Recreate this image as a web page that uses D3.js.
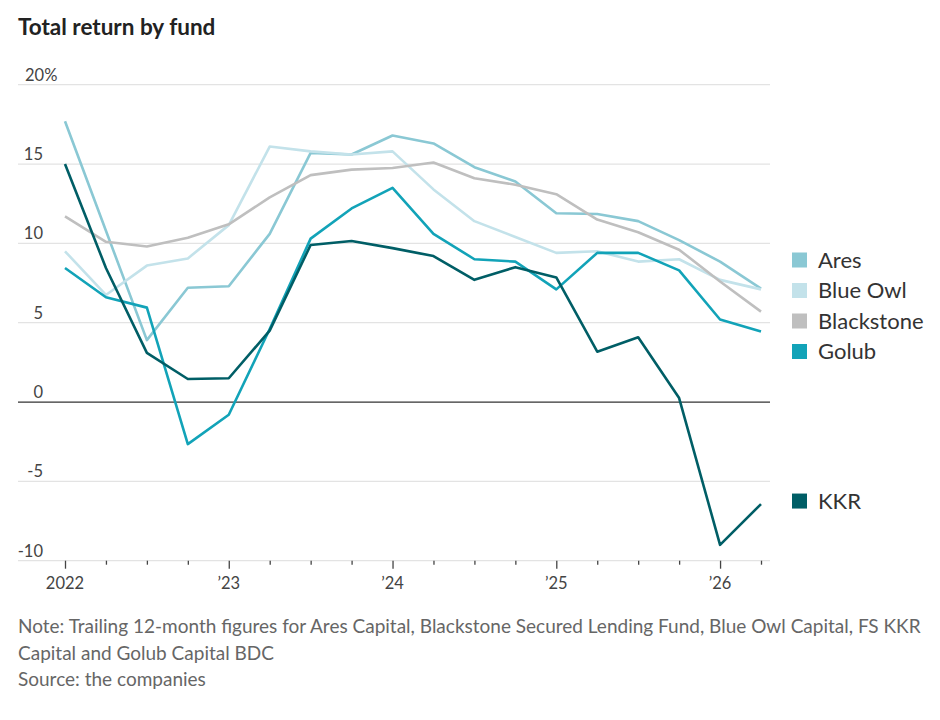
<!DOCTYPE html>
<html>
<head>
<meta charset="utf-8">
<script src="https://cdn.jsdelivr.net/npm/d3@7"></script>
<style>
  html, body { margin: 0; padding: 0; background: #fff; }
  text { font-family: Lato, "Open Sans", sans-serif; }
</style>
</head>
<body>
<svg id="chart" width="940" height="720"></svg>
<script>
// Quarterly dates (year fractions) from 2022 Q1 to 2026 Q2
const quarters = [2022, 2022.25, 2022.5, 2022.75, 2023, 2023.25, 2023.5, 2023.75,
  2024, 2024.25, 2024.5, 2024.75, 2025, 2025.25, 2025.5, 2025.75, 2026, 2026.25];

const seriesNames = ["Ares", "Blue Owl", "Blackstone", "Golub", "KKR"];
const seriesColors = ["#8ac8d4", "#c3e2ea", "#bfbfbf", "#12a3b8", "#005e66"];

const ares       = [17.7, 10.8, 3.9, 7.2, 7.3, 10.6, 15.7, 15.6, 16.8, 16.3, 14.8, 13.9, 11.9, 11.85, 11.4, 10.2, 8.85, 7.15];
const blueOwl    = [9.5, 6.75, 8.6, 9.05, 11.15, 16.1, 15.8, 15.6, 15.8, 13.4, 11.4, 10.4, 9.4, 9.5, 8.85, 9.0, 7.7, 7.1];
const blackstone = [11.7, 10.1, 9.8, 10.35, 11.2, 12.9, 14.3, 14.65, 14.75, 15.1, 14.1, 13.7, 13.1, 11.5, 10.7, 9.6, 7.6, 5.7];
const golub      = [8.45, 6.6, 5.95, -2.65, -0.8, 4.6, 10.3, 12.2, 13.5, 10.6, 9.0, 8.85, 7.1, 9.4, 9.4, 8.3, 5.2, 4.45];
const kkr        = [15.0, 8.45, 3.1, 1.45, 1.5, 4.5, 9.9, 10.15, 9.7, 9.2, 7.7, 8.5, 7.85, 3.17, 4.08, 0.25, -9.0, -6.43];

const seriesValues = [ares, blueOwl, blackstone, golub, kkr];

const yTicks = [20, 15, 10, 5, 0, -5, -10];
const yTickLabels = ["20%", "15", "10", "5", "0", "-5", "-10"];
const xMajorTicks = [2022, 2023, 2024, 2025, 2026];
const xMajorLabels = ["2022", "\u201923", "\u201924", "\u201925", "\u201926"];

const title = "Total return by fund";
const noteLines = [
  "Note: Trailing 12-month figures for Ares Capital, Blackstone Secured Lending Fund, Blue Owl Capital, FS KKR",
  "Capital and Golub Capital BDC",
  "Source: the companies"
];

const svg = d3.select("#chart");

const x = d3.scaleLinear().domain([2022, 2026.25]).range([65, 761]);
const y = d3.scaleLinear().domain([-10, 20]).range([560.7, 84.7]);

// Title
svg.append("text")
  .attr("x", 18).attr("y", 35)
  .attr("font-size", 22.5).attr("font-weight", 700)
  .attr("fill", "#222")
  .text(title);

// Gridlines
const grid = svg.append("g");
grid.selectAll("line").data(yTicks.filter(d => d !== 0)).join("line")
  .attr("x1", 18).attr("x2", 770)
  .attr("y1", d => y(d)).attr("y2", d => y(d))
  .attr("stroke", "#e3e3e3").attr("stroke-width", 1.2);

// Zero line
svg.append("line")
  .attr("x1", 18).attr("x2", 770)
  .attr("y1", y(0)).attr("y2", y(0))
  .attr("stroke", "#333").attr("stroke-width", 1.3);

// Y labels
svg.append("g").selectAll("text").data(yTicks).join("text")
  .attr("x", d => d === 20 ? 25 : 43)
  .attr("text-anchor", d => d === 20 ? "start" : "end")
  .attr("y", d => y(d) - 4)
  .attr("font-size", 16.5).attr("fill", "#444")
  .text((d, i) => yTickLabels[i]);

// X axis ticks
const xAxis = d3.axisBottom(x)
  .tickValues(quarters)
  .tickSize(4)
  .tickFormat("");
const gx = svg.append("g").attr("transform", `translate(0,${y(-10)})`).call(xAxis);
gx.select(".domain").remove();
gx.selectAll(".tick line")
  .attr("stroke", "#444").attr("stroke-width", 1.3)
  .attr("y2", d => xMajorTicks.includes(d) ? 8 : 4);

svg.append("g").selectAll("text").data(xMajorTicks).join("text")
  .attr("x", d => x(d)).attr("y", 589)
  .attr("text-anchor", "middle")
  .attr("font-size", 16.5).attr("fill", "#444")
  .text((d, i) => xMajorLabels[i]);

// Lines
const line = d3.line().x((d, i) => x(quarters[i])).y(d => y(d));
svg.append("g").selectAll("path").data(seriesValues).join("path")
  .attr("d", d => line(d))
  .attr("fill", "none")
  .attr("stroke", (d, i) => seriesColors[i])
  .attr("stroke-width", 2.6)
  .attr("stroke-linejoin", "round");

// Legend
const legendY = seriesNames.map((n, i) => i < 4 ? 260 + i * 30.5 : y(kkr[kkr.length - 1]) - 3);
const lg = svg.append("g").selectAll("g").data(seriesNames).join("g")
  .attr("transform", (d, i) => `translate(792,${legendY[i]})`);
lg.append("rect")
  .attr("x", 0).attr("y", -7.5).attr("width", 15).attr("height", 15)
  .attr("fill", (d, i) => seriesColors[i]);
lg.append("text")
  .attr("x", 26).attr("y", 7.5)
  .attr("font-size", 22).attr("fill", "#333")
  .text(d => d);

// Notes
svg.append("g").selectAll("text").data(noteLines).join("text")
  .attr("x", 18).attr("y", (d, i) => 633 + i * 26.5)
  .attr("font-size", 19).attr("fill", "#666")
  .text(d => d);
</script>
</body>
</html>
